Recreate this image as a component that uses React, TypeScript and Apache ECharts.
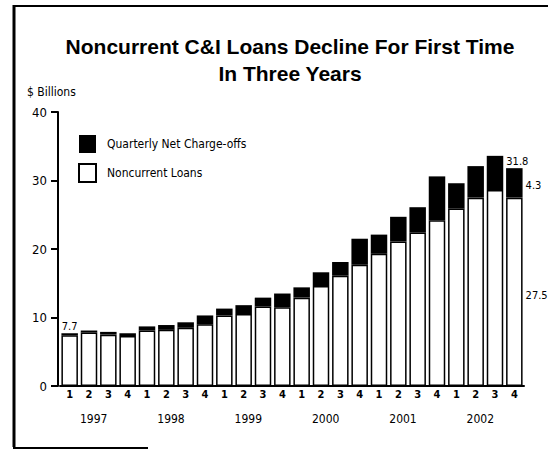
import React, { useEffect, useRef } from "react";
import * as echarts from "echarts";

const years = ["1997", "1998", "1999", "2000", "2001", "2002"];
const quarters = ["1", "2", "3", "4"];
const categories = years.flatMap((y) => quarters.map((q) => `${y} Q${q}`));

const noncurrentLoans = [
  7.4, 7.8, 7.5, 7.3,
  8.1, 8.2, 8.5, 9.0,
  10.3, 10.5, 11.6, 11.5,
  12.9, 14.6, 16.1, 17.7,
  19.3, 21.1, 22.4, 24.2,
  25.9, 27.5, 28.6, 27.5,
];
const chargeOffs = [
  0.3, 0.3, 0.4, 0.4,
  0.6, 0.7, 0.8, 1.3,
  1.0, 1.3, 1.3, 2.0,
  1.5, 2.0, 2.0, 3.8,
  2.8, 3.6, 3.7, 6.4,
  3.7, 4.6, 5.0, 4.3,
];
const yTicks = [0, 10, 20, 30, 40];

const NARROW = "'Liberation Sans Narrow', 'DejaVu Sans Condensed', 'Liberation Sans', sans-serif";
const SANS = "'Liberation Sans', Arial, sans-serif";

export default function App() {
  const ref = useRef<HTMLDivElement>(null);

  useEffect(() => {
    document.body.style.margin = "0";
    const chart = echarts.init(ref.current!, null, { renderer: "svg" });
    const last = categories.length - 1;
    const total = (i: number) => +(noncurrentLoans[i] + chargeOffs[i]).toFixed(1);

    chart.setOption({
      animation: false,
      backgroundColor: "#ffffff",
      title: {
        text: "Noncurrent C&I Loans Decline For First Time\nIn Three Years",
        left: 285,
        top: 28,
        textAlign: "center",
        textStyle: {
          fontFamily: SANS,
          fontWeight: "bold",
          fontSize: 21,
          lineHeight: 27,
          color: "#000",
        },
      },
      legend: {
        orient: "vertical",
        left: 73,
        top: 130,
        itemWidth: 17,
        itemHeight: 18,
        itemGap: 10,
        icon: "rect",
        data: ["Quarterly Net Charge-offs", "Noncurrent Loans"],
        textStyle: {
          fontFamily: NARROW,
          fontSize: 12,
          color: "#000",
          padding: [0, 0, 0, 6],
        },
      },
      grid: { left: 60, right: 24, top: 112, bottom: 65 },
      xAxis: [
        {
          type: "category",
          data: categories,
          axisLine: { lineStyle: { color: "#000", width: 2 } },
          axisTick: { show: false },
          axisLabel: {
            formatter: (v: string) => v.slice(-1),
            margin: 3,
            fontFamily: NARROW,
            fontWeight: "bold",
            fontSize: 11,
            color: "#000",
            interval: 0,
          },
        },
        {
          type: "category",
          data: years,
          position: "bottom",
          axisLine: { show: false },
          axisTick: { show: false },
          axisLabel: {
            margin: 27,
            fontFamily: NARROW,
            fontSize: 12,
            color: "#000",
            padding: [0, 10, 0, 0],
            interval: 0,
          },
        },
      ],
      yAxis: {
        type: "value",
        min: yTicks[0],
        max: yTicks[yTicks.length - 1],
        interval: 10,
        offset: 2,
        splitLine: { show: false },
        axisLine: { show: true, lineStyle: { color: "#000", width: 2 } },
        axisTick: { show: true, length: 7, lineStyle: { color: "#000", width: 2 } },
        axisLabel: {
          margin: 11,
          fontFamily: NARROW,
          fontSize: 13,
          color: "#000",
        },
      },
      series: [
        {
          name: "Noncurrent Loans",
          type: "bar",
          stack: "total",
          barWidth: 16.5,
          itemStyle: { color: "#ffffff", borderColor: "#000", borderWidth: 1.5 },
          data: noncurrentLoans.map((v, i) =>
            i === last
              ? {
                  value: v,
                  label: {
                    show: true,
                    position: "right",
                    distance: 3,
                    offset: [0, 4],
                    formatter: String(v),
                    fontFamily: NARROW,
                    fontSize: 11,
                    color: "#000",
                  },
                }
              : v
          ),
        },
        {
          name: "Quarterly Net Charge-offs",
          type: "bar",
          stack: "total",
          barWidth: 16.5,
          itemStyle: { color: "#000" },
          data: chargeOffs.map((v, i) =>
            i === last
              ? {
                  value: v,
                  label: {
                    show: true,
                    position: "right",
                    distance: 3,
                    offset: [0, 3],
                    formatter: String(v),
                    fontFamily: NARROW,
                    fontSize: 11,
                    color: "#000",
                  },
                }
              : v
          ),
          markPoint: {
            symbol: "circle",
            symbolSize: 0,
            label: {
              show: true,
              position: "top",
              distance: 1,
              fontFamily: NARROW,
              fontSize: 11,
              color: "#000",
              formatter: (p: any) => String(p.value),
            },
            data: [
              { coord: [categories[0], total(0)], value: total(0), label: { offset: [0, 0] } },
              { coord: [categories[last], total(last)], value: total(last), label: { offset: [3, 0] } },
            ],
          },
        },
      ],
      graphic: [
        {
          type: "text",
          left: 27,
          top: 86,
          style: { text: "$ Billions", fontFamily: NARROW, fontSize: 12, fill: "#000" },
        },
        { type: "line", shape: { x1: 13, y1: 6, x2: 548, y2: 6 }, style: { stroke: "#000", lineWidth: 2 } },
        { type: "line", shape: { x1: 14, y1: 5, x2: 14, y2: 447 }, style: { stroke: "#000", lineWidth: 3 } },
        { type: "line", shape: { x1: 13, y1: 448, x2: 148, y2: 448 }, style: { stroke: "#000", lineWidth: 2 } },
      ],
    });

    return () => chart.dispose();
  }, []);

  return <div ref={ref} style={{ width: 548, height: 451, position: "absolute", left: 0, top: 0 }} />;
}
